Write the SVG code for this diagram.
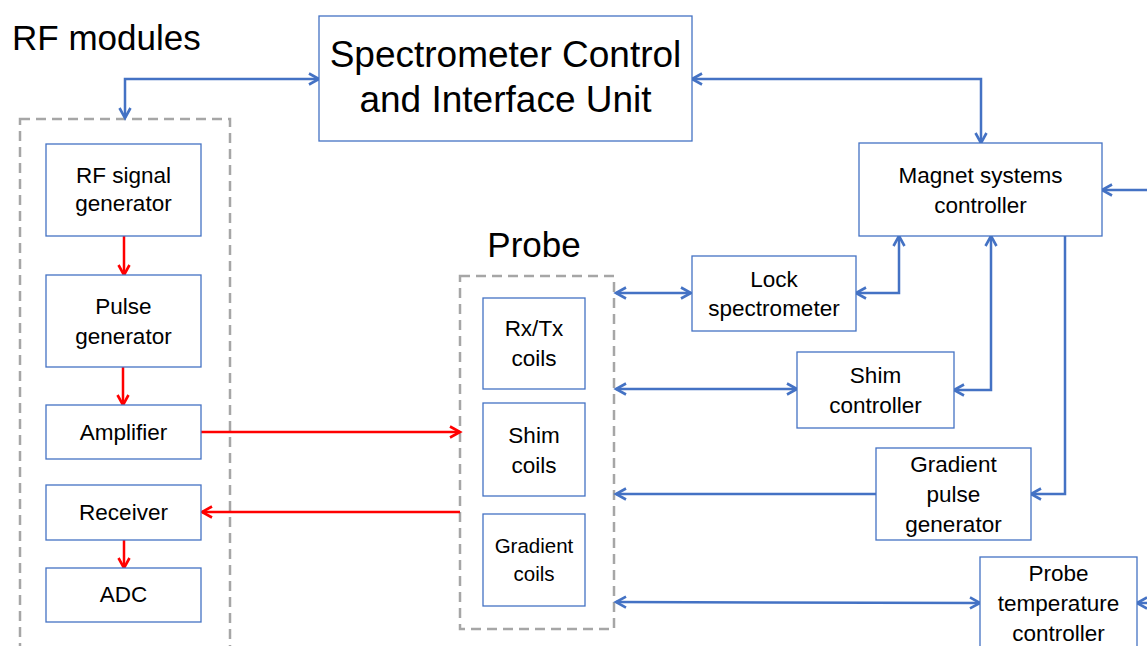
<svg xmlns="http://www.w3.org/2000/svg" width="1147" height="646" viewBox="0 0 1147 646">
<style>
.node rect{fill:#fff;stroke:#4472C4;stroke-width:1.3}
text{font-family:"Liberation Sans",Arial,sans-serif;fill:#000;text-anchor:middle}
.t{font-size:22.5px}
.big{font-size:37px}
.grp{fill:none;stroke:#A6A6A6;stroke-width:2.5;stroke-dasharray:10 6}
.cb{fill:none;stroke:#4472C4;stroke-width:2.5}
.cr{fill:none;stroke:#FF0000;stroke-width:2.5}
.b2{marker-start:url(#ab);marker-end:url(#ab)}
.b1{marker-end:url(#ab)}
.r1{marker-end:url(#ar)}
</style>
<defs>
<marker id="ab" markerUnits="userSpaceOnUse" markerWidth="16" markerHeight="16" viewBox="-13 -8 16 16" refX="0" refY="0" orient="auto-start-reverse">
<path d="M-10,-5.5 L0,0 L-10,5.5" fill="none" stroke="#4472C4" stroke-width="2.6"/>
</marker>
<marker id="ar" markerUnits="userSpaceOnUse" markerWidth="16" markerHeight="16" viewBox="-13 -8 16 16" refX="0" refY="0" orient="auto-start-reverse">
<path d="M-10,-5.5 L0,0 L-10,5.5" fill="none" stroke="#FF0000" stroke-width="2.6"/>
</marker>
</defs>
<rect width="1147" height="646" fill="#fff"/>

<g id="rf-modules-group">
<rect class="grp" x="20" y="119" width="210" height="545"/>
<text x="12" y="50" font-size="35" style="text-anchor:start">RF modules</text>
</g>
<g id="probe-group">
<rect class="grp" x="460" y="276" width="154" height="353"/>
<text x="534" y="257" font-size="35">Probe</text>
</g>

<g id="connectors">
<path class="cb b2" d="M125,118 V79 H319"/>
<path class="cb b2" d="M692,79 H981 V143"/>
<path class="cb b1" d="M1147,190 H1102"/>
<path class="cb b2" d="M856,293 H899 V236"/>
<path class="cb b2" d="M616,293 H691"/>
<path class="cb b2" d="M616,389 H797"/>
<path class="cb b2" d="M991,236 V390 H954"/>
<path class="cb b1" d="M1065,236 V494 H1031"/>
<path class="cb b1" d="M876,494 H616"/>
<path class="cb b2" d="M616,602 L980,603"/>
<path class="cb b1" d="M1147,603 H1137"/>
<path class="cr r1" d="M124,236 V275"/>
<path class="cr r1" d="M123,367 V405"/>
<path class="cr r1" d="M201,432 H460"/>
<path class="cr r1" d="M460,512 H202"/>
<path class="cr r1" d="M124,540 V568"/>
</g>

<g id="spectrometer" class="node">
<rect x="319" y="16" width="373" height="125"/>
<text class="big" x="505.5" y="67">Spectrometer Control</text>
<text class="big" x="505.5" y="112">and Interface Unit</text>
</g>
<g id="rf-signal-generator" class="node">
<rect x="46" y="144" width="155" height="92"/>
<text class="t" x="123.5" y="183">RF signal</text>
<text class="t" x="123.5" y="211">generator</text>
</g>
<g id="pulse-generator" class="node">
<rect x="46" y="275" width="155" height="92"/>
<text class="t" x="123.5" y="314">Pulse</text>
<text class="t" x="123.5" y="344">generator</text>
</g>
<g id="amplifier" class="node">
<rect x="46" y="405" width="155" height="54"/>
<text class="t" x="123.5" y="440">Amplifier</text>
</g>
<g id="receiver" class="node">
<rect x="46" y="485" width="155" height="55"/>
<text class="t" x="123.5" y="520">Receiver</text>
</g>
<g id="adc" class="node">
<rect x="46" y="568" width="155" height="54"/>
<text class="t" x="123.5" y="602">ADC</text>
</g>
<g id="rxtx-coils" class="node">
<rect x="483" y="298" width="102" height="91"/>
<text class="t" x="534" y="336">Rx/Tx</text>
<text class="t" x="534" y="366">coils</text>
</g>
<g id="shim-coils" class="node">
<rect x="483" y="403" width="102" height="93"/>
<text class="t" x="534" y="443">Shim</text>
<text class="t" x="534" y="473">coils</text>
</g>
<g id="gradient-coils" class="node">
<rect x="483" y="514" width="102" height="92"/>
<text x="534" y="553" font-size="20.5">Gradient</text>
<text x="534" y="581" font-size="20.5">coils</text>
</g>
<g id="magnet-systems-controller" class="node">
<rect x="859" y="143" width="243" height="93"/>
<text class="t" x="980.5" y="183">Magnet systems</text>
<text class="t" x="980.5" y="213">controller</text>
</g>
<g id="lock-spectrometer" class="node">
<rect x="692" y="256" width="164" height="75"/>
<text class="t" x="774" y="287">Lock</text>
<text class="t" x="774" y="316">spectrometer</text>
</g>
<g id="shim-controller" class="node">
<rect x="797" y="352" width="157" height="76"/>
<text class="t" x="875.5" y="383">Shim</text>
<text class="t" x="875.5" y="413">controller</text>
</g>
<g id="gradient-pulse-generator" class="node">
<rect x="876" y="448" width="155" height="92"/>
<text class="t" x="953.5" y="472">Gradient</text>
<text class="t" x="953.5" y="502">pulse</text>
<text class="t" x="953.5" y="532">generator</text>
</g>
<g id="probe-temperature-controller" class="node">
<rect x="980" y="557" width="157" height="100"/>
<text class="t" x="1058.5" y="581">Probe</text>
<text class="t" x="1058.5" y="611">temperature</text>
<text class="t" x="1058.5" y="641">controller</text>
</g>
</svg>
